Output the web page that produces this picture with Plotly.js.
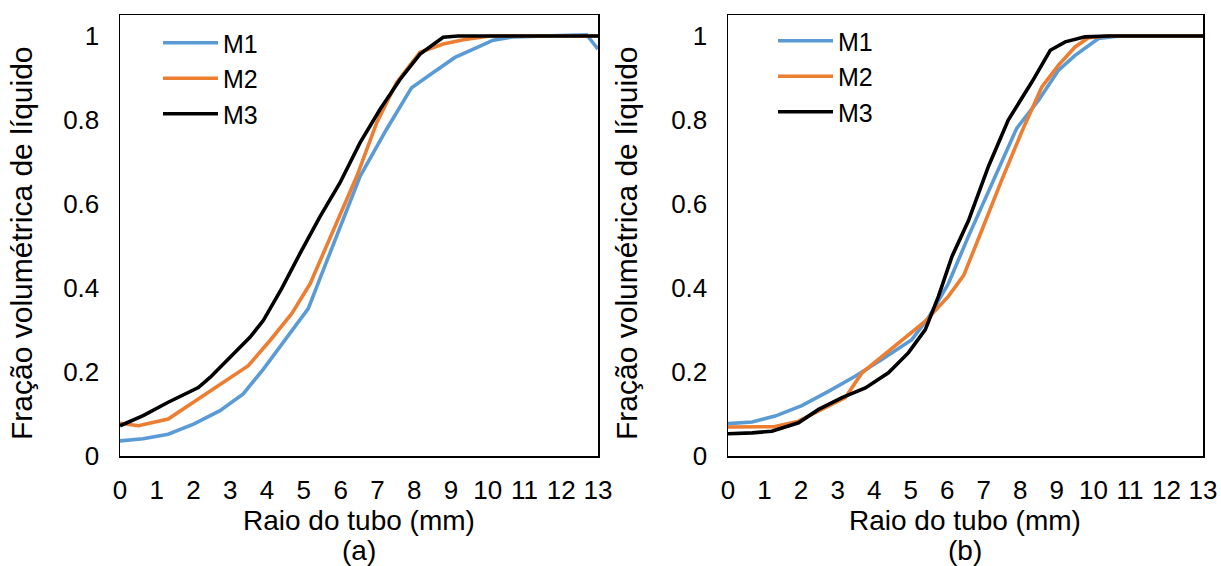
<!DOCTYPE html>
<html>
<head>
<meta charset="utf-8">
<script src="https://cdn.plot.ly/plotly-3.0.1.min.js"></script>
<style>html,body{margin:0;padding:0;background:#fff;}#chart{width:1221px;height:566px;}</style>
</head>
<body>
<div id="chart"></div>
<script>
// ---------- Data ----------
const seriesNames = ["M1", "M2", "M3"];
const xTickVals = [0,1,2,3,4,5,6,7,8,9,10,11,12,13];
const yTickVals = [0,0.2,0.4,0.6,0.8,1];

// Panel (a)
const aM1x = [0,0.63,1.31,2.0,2.72,3.35,3.9,4.53,5.12,5.53,5.98,6.53,7.25,7.93,8.52,9.11,9.61,10.15,10.7,12.69,13];
const aM1y = [0.036,0.041,0.052,0.076,0.108,0.148,0.207,0.283,0.351,0.443,0.546,0.666,0.778,0.877,0.913,0.949,0.969,0.990,0.998,1.003,0.969];
const aM2x = [0,0.5,1.31,2.0,2.72,3.49,4.08,4.67,5.17,5.49,5.98,6.44,6.98,7.52,8.16,8.79,9.34,10.05,13];
const aM2y = [0.078,0.072,0.088,0.128,0.171,0.215,0.275,0.339,0.410,0.474,0.570,0.666,0.793,0.889,0.961,0.981,0.991,1.0,1.0];
const aM3x = [0,0.63,1.31,2.13,2.45,2.9,3.54,3.9,4.4,4.9,5.44,5.98,6.53,7.07,7.62,8.16,8.79,9.2,13];
const aM3y = [0.072,0.096,0.128,0.163,0.187,0.227,0.283,0.323,0.399,0.483,0.570,0.650,0.746,0.825,0.897,0.957,0.997,1.0,1.0];

// Panel (b)
const bM1x = [0,0.66,1.29,2.02,2.75,3.48,4.21,5.03,5.49,6.03,6.58,7.22,7.9,8.5,9.04,9.5,10.14,10.7,13];
const bM1y = [0.077,0.081,0.095,0.120,0.154,0.190,0.230,0.277,0.330,0.410,0.523,0.649,0.780,0.847,0.918,0.954,0.994,1.0,1.0];
const bM2x = [0,0.66,1.29,1.93,2.66,3.21,3.67,4.39,4.94,5.4,6.03,6.45,6.95,7.49,8.04,8.59,9.04,9.5,9.86,10.4,13];
const bM2y = [0.069,0.069,0.070,0.083,0.115,0.139,0.198,0.249,0.289,0.321,0.380,0.430,0.538,0.657,0.772,0.879,0.930,0.974,0.996,1.0,1.0];
const bM3x = [0,0.66,1.2,1.93,2.48,3.12,3.76,4.39,4.94,5.4,5.76,6.13,6.58,7.13,7.67,8.32,8.82,9.23,9.77,10.4,13];
const bM3y = [0.053,0.055,0.059,0.079,0.111,0.139,0.162,0.198,0.246,0.301,0.380,0.475,0.560,0.690,0.800,0.891,0.966,0.986,0.998,1.0,1.0];

const xTitle = "Raio do tubo (mm)";
const yTitle = "Fração volumétrica de líquido";
const panelLabels = ["(a)", "(b)"];
const colors = ["#5B9BD5", "#ED7D31", "#000000"];

// ---------- Figure ----------
const W = 1221, H = 566;
const FONT = "Liberation Sans, Arial, Helvetica, sans-serif";
const px = v => v / W;
const py = v => 1 - v / H;

const panels = [
  {xs:[aM1x,aM2x,aM3x], ys:[aM1y,aM2y,aM3y], xa:"x", ya:"y", legend:"legend"},
  {xs:[bM1x,bM2x,bM3x], ys:[bM1y,bM2y,bM3y], xa:"x2", ya:"y2", legend:"legend2"}
];
const traces = [];
panels.forEach(p => {
  for (let i = 0; i < 3; i++) {
    traces.push({
      type: "scatter", mode: "lines",
      x: p.xs[i], y: p.ys[i], name: seriesNames[i],
      xaxis: p.xa, yaxis: p.ya, legend: p.legend,
      line: {color: colors[i], width: 3.6, shape: "linear"},
      hoverinfo: "skip"
    });
  }
});

const yDom = [py(456), py(15)];
function xAxis(dom, anchor) {
  return {
    domain: dom, anchor: anchor, range: [0, 13],
    tickmode: "array", tickvals: xTickVals,
    showgrid: false, zeroline: false,
    showline: true, mirror: true, linecolor: "#000", linewidth: 1.5,
    ticks: "outside", ticklen: 10, tickcolor: "rgba(0,0,0,0)",
    tickfont: {family: FONT, size: 26, color: "#000"}
  };
}
function yAxis(anchor) {
  return {
    domain: yDom, anchor: anchor, range: [0, 1.05],
    tickmode: "array", tickvals: yTickVals,
    showgrid: false, zeroline: false,
    showline: true, mirror: true, linecolor: "#000", linewidth: 1.5,
    ticks: "outside", ticklen: 14, tickcolor: "rgba(0,0,0,0)",
    tickfont: {family: FONT, size: 26, color: "#000"}
  };
}

const legendCommon = {
  font: {family: FONT, size: 25, color: "#000"},
  bgcolor: "rgba(0,0,0,0)", borderwidth: 0,
  xanchor: "left", yanchor: "top",
  itemwidth: 55, tracegroupgap: 0, itemclick: false
};

const annotations = [];
const centers = [359, 965];
const yTitleX = [22, 627];
for (let k = 0; k < 2; k++) {
  annotations.push({xref:"paper", yref:"paper", x: px(centers[k]), y: py(520), xanchor:"center", yanchor:"middle",
    text: xTitle, showarrow:false, font:{family:FONT, size:28, color:"#000"}});
  annotations.push({xref:"paper", yref:"paper", x: px(centers[k]), y: py(550), xanchor:"center", yanchor:"middle",
    text: panelLabels[k], showarrow:false, font:{family:FONT, size:28, color:"#000"}});
  annotations.push({xref:"paper", yref:"paper", x: px(yTitleX[k]), y: py(243), xanchor:"center", yanchor:"middle",
    text: yTitle, textangle:-90, showarrow:false, font:{family:FONT, size:30, color:"#000"}});
}

const layout = {
  width: W, height: H,
  margin: {l:0, r:0, t:0, b:0},
  paper_bgcolor: "#fff", plot_bgcolor: "#fff",
  showlegend: true,
  xaxis: xAxis([px(120), px(598)], "y"),
  yaxis: yAxis("x"),
  xaxis2: xAxis([px(728), px(1203)], "y2"),
  yaxis2: yAxis("x2"),
  legend: Object.assign({x: px(158), y: py(20)}, legendCommon),
  legend2: Object.assign({x: px(773), y: py(18)}, legendCommon),
  annotations: annotations
};

Plotly.newPlot("chart", traces, layout, {displayModeBar:false, staticPlot:true});
</script>
</body>
</html>
